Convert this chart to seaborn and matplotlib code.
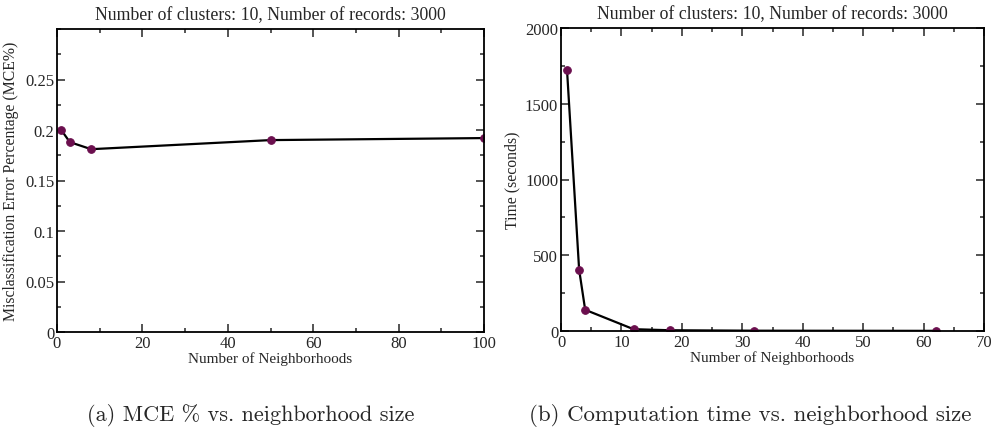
import matplotlib
matplotlib.use("Agg")
import matplotlib.pyplot as plt
import seaborn as sns
from matplotlib.ticker import MultipleLocator

# neighborhood count vs misclassification error
mce_neighborhoods = [1, 3, 8, 50, 100]
mce_values = [0.200, 0.188, 0.181, 0.190, 0.192]

# neighborhood count vs computation time
time_neighborhoods = [1, 3, 4, 12, 18, 32, 62]
time_values = [1720, 405, 140, 12, 5, 2, 1]

title = "Number of clusters: 10, Number of records: 3000"
xlabel = "Number of Neighborhoods"
caption_a = "(a) MCE % vs. neighborhood size"
caption_b = "(b) Computation time vs. neighborhood size"

sns.set_style("ticks")
plt.rcParams["font.family"] = ["Liberation Serif", "DejaVu Serif"]
plt.rcParams["axes.linewidth"] = 1.3

marker_color = "#6B0F4E"

fig = plt.figure(figsize=(9.95, 4.39), dpi=100)
W, H = 995, 439
ax1 = fig.add_axes([57 / W, 1 - 333 / H, 427 / W, 303 / H])
ax2 = fig.add_axes([561 / W, 1 - 332 / H, 423 / W, 303 / H])

line_kw = dict(color="black", linewidth=1.6, marker="o", markersize=5.5,
               markerfacecolor=marker_color, markeredgecolor=marker_color)

sns.lineplot(x=mce_neighborhoods, y=mce_values, ax=ax1, **line_kw)
sns.lineplot(x=time_neighborhoods, y=time_values, ax=ax2, **line_kw)

ax1.set_xlim(0, 100)
ax1.set_ylim(0, 0.3)
ax1.set_xticks(range(0, 101, 20))
ax1.set_yticks([0, 0.05, 0.1, 0.15, 0.2, 0.25])
ax1.set_yticklabels(["0", "0.05", "0.1", "0.15", "0.2", "0.25"])
ax1.xaxis.set_minor_locator(MultipleLocator(10))
ax1.yaxis.set_minor_locator(MultipleLocator(0.025))
ax1.set_ylabel("Misclassification Error Percentage (MCE%)", fontsize=11.3)

ax2.set_xlim(0, 70)
ax2.set_ylim(0, 2000)
ax2.set_xticks(range(0, 71, 10))
ax2.set_yticks(range(0, 2001, 500))
ax2.xaxis.set_minor_locator(MultipleLocator(5))
ax2.yaxis.set_minor_locator(MultipleLocator(250))
ax2.set_ylabel("Time (seconds)", fontsize=11.3)

for ax in (ax1, ax2):
    ax.set_title(title, fontsize=12.8, pad=7)
    ax.set_xlabel(xlabel, fontsize=11, labelpad=0)
    ax.tick_params(which="both", direction="in", top=True, right=True,
                   labelsize=12, width=1.1, pad=2)
    ax.tick_params(which="major", length=6)
    ax.tick_params(which="minor", length=3)
    for s in ax.spines.values():
        s.set_visible(True)
        s.set_color("black")

ax1.yaxis.set_label_coords(-0.09, 0.5)
ax2.yaxis.set_label_coords(-0.095, 0.5)

fig.text(251 / W, 1 - 416 / H, caption_a, ha="center", va="center",
         family="cmr10", fontsize=16)
fig.text(750 / W, 1 - 416 / H, caption_b, ha="center", va="center",
         family="cmr10", fontsize=16.5)

fig.savefig("out.png", dpi=100)
